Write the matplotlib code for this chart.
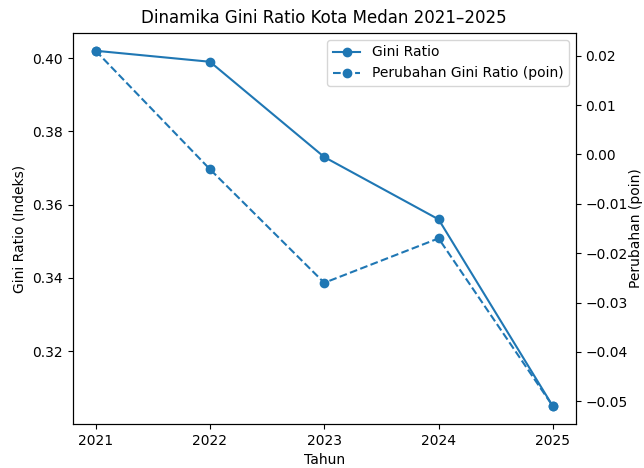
import matplotlib
matplotlib.use("Agg")
import matplotlib.pyplot as plt

tahun = [2021, 2022, 2023, 2024, 2025]
gini = [0.402, 0.399, 0.373, 0.356, 0.305]
perubahan = [0.021, -0.003, -0.026, -0.017, -0.051]

fig, ax1 = plt.subplots(figsize=(6.44, 4.68), dpi=100)
fig.subplots_adjust(left=0.113, right=0.894, bottom=0.094, top=0.9295)

l1, = ax1.plot(tahun, gini, marker='o', color='#1f77b4', label='Gini Ratio')
ax1.set_xlabel('Tahun')
ax1.set_ylabel('Gini Ratio (Indeks)')
ax1.set_xticks(tahun)

ax2 = ax1.twinx()
l2, = ax2.plot(tahun, perubahan, marker='o', linestyle='--', color='#1f77b4',
               label='Perubahan Gini Ratio (poin)')
# label sits right at the edge, like in the source picture
ax2.set_ylabel('Perubahan (poin)', labelpad=0.5)

ax1.legend(handles=[l1, l2], loc='upper right')
ax1.set_title('Dinamika Gini Ratio Kota Medan 2021\u20132025', fontsize=12, pad=7)

fig.savefig('out.png')
